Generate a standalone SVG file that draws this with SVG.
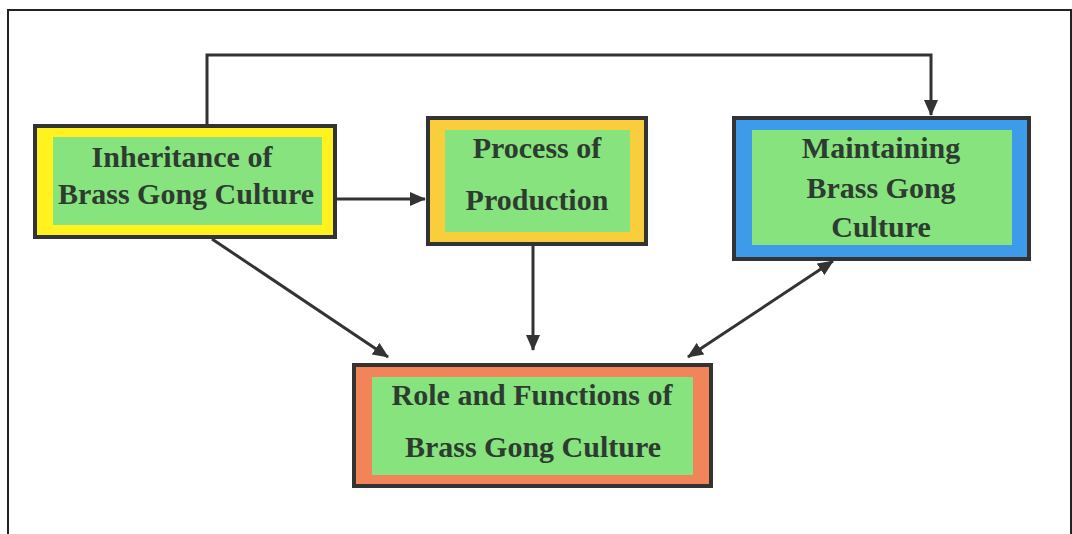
<svg xmlns="http://www.w3.org/2000/svg" width="1072" height="534" viewBox="0 0 1072 534">
  <style>
    .outer { stroke: #333333; stroke-width: 4; }
    .inner { fill: #86E37E; }
    .lbl { font-family: "Liberation Serif", "Times New Roman", serif; font-weight: bold; font-size: 30px; fill: #2E3B30; text-anchor: middle; }
    .conn { fill: none; stroke: #333333; stroke-width: 3; }
  </style>
  <defs>
    <marker id="arr" viewBox="0 0 16 14" markerUnits="userSpaceOnUse" markerWidth="16" markerHeight="14" refX="15" refY="7" orient="auto-start-reverse">
      <path d="M0,0 L16,7 L0,14 z" fill="#333333"/>
    </marker>
  </defs>
  <rect width="1072" height="534" fill="#ffffff"/>
  <path d="M8,540 V10 H1071 V540" fill="none" stroke="#222222" stroke-width="2"/>

  <g id="connectors">
    <path class="conn" d="M207,124 V55 H931 V115" marker-end="url(#arr)"/>
    <path class="conn" d="M337,199 H425" marker-end="url(#arr)"/>
    <path class="conn" d="M212,239 L388,357" marker-end="url(#arr)"/>
    <path class="conn" d="M533,246 V350" marker-end="url(#arr)"/>
    <path class="conn" d="M688,357 L833,261" marker-start="url(#arr)" marker-end="url(#arr)"/>
  </g>

  <g id="inheritance">
    <rect class="outer" x="35" y="126" width="300" height="111" fill="#FFF21F"/>
    <rect class="inner" x="53" y="137" width="269" height="88"/>
    <text class="lbl" x="182" y="167">Inheritance of</text>
    <text class="lbl" x="186" y="204">Brass Gong Culture</text>
  </g>

  <g id="process">
    <rect class="outer" x="428" y="118" width="218" height="126" fill="#F9CE3C"/>
    <rect class="inner" x="445" y="130" width="185" height="102"/>
    <text class="lbl" x="537" y="158">Process of</text>
    <text class="lbl" x="537" y="210">Production</text>
  </g>

  <g id="maintaining">
    <rect class="outer" x="734" y="118" width="295" height="141" fill="#3D9BEA"/>
    <rect class="inner" x="752" y="130" width="260" height="115"/>
    <text class="lbl" x="881" y="158">Maintaining</text>
    <text class="lbl" x="881" y="198">Brass Gong</text>
    <text class="lbl" x="881" y="237">Culture</text>
  </g>

  <g id="role">
    <rect class="outer" x="354" y="365" width="357" height="121" fill="#F2845A"/>
    <rect class="inner" x="372" y="377" width="321" height="98"/>
    <text class="lbl" x="532" y="405">Role and Functions of</text>
    <text class="lbl" x="533" y="457">Brass Gong Culture</text>
  </g>
</svg>
